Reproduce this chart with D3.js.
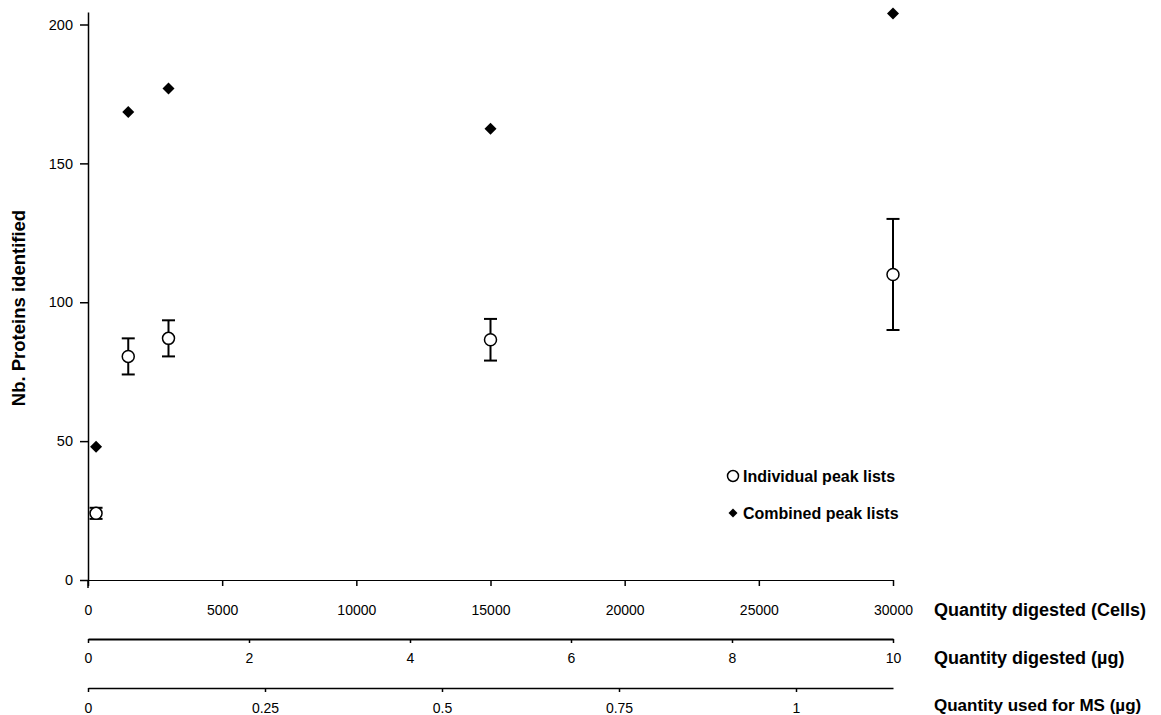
<!DOCTYPE html>
<html>
<head>
<meta charset="utf-8">
<script src="https://cdn.jsdelivr.net/npm/d3@7"></script>
<style>
    body { margin: 0; background: #fff; }
    svg { font-family: "Liberation Sans", Arial, sans-serif; }
    .axis path, .axis line { stroke: #000; }
    .axis text { fill: #000; font-size: 14px; }
    .title { font-size: 18px; font-weight: bold; fill: #000; }
    .legend text { font-size: 16px; font-weight: bold; fill: #000; }
</style>
</head>
<body>
<svg width="1161" height="715"></svg>
<script>
/*jslint browser: true */
/*global d3 */

// quantity digested, in cells
var cells = [300, 1500, 3000, 15000, 30000];
// individual peak lists: mean and error
var individualMean = [24, 80.5, 87, 86.5, 110];
var individualError = [2, 6.5, 6.5, 7.5, 20];
// combined peak lists
var combined = [48, 168.5, 177, 162.5, 204];

var yTicks = [0, 50, 100, 150, 200];
var cellTicks = [0, 5000, 10000, 15000, 20000, 25000, 30000];
var ugTicks = [0, 2, 4, 6, 8, 10];
var msTicks = [0, 0.25, 0.5, 0.75, 1];
var axisTitles = [
    "Quantity digested (Cells)",
    "Quantity digested (\u00b5g)",
    "Quantity used for MS (\u00b5g)"
];
var legendLabels = ["Individual peak lists", "Combined peak lists"];

(function () {
    "use strict";

    var svg = d3.select("svg");
    var left = 88; // px
    var right = 893; // px
    var bottom = 580; // px

    var x = d3.scaleLinear().domain([0, 30000]).range([left, right]);
    var y = d3.scaleLinear().domain([0, 204.5]).range([bottom, 12]);
    var xUg = d3.scaleLinear().domain([0, 10]).range([left, right]);
    var xMs = d3.scaleLinear().domain([0, 1.137]).range([left, right]);

    var fmt = function (d) {
        return String(d);
    };

    // y axis
    var yAxisGroup = svg.append("g")
        .attr("class", "axis")
        .attr("transform", "translate(" + left + ",0)")
        .call(d3.axisLeft(y).tickValues(yTicks).tickSize(8)
            .tickSizeOuter(0).tickPadding(7).tickFormat(fmt));
    yAxisGroup.select(".domain").attr("stroke-width", 1.5);
    yAxisGroup.selectAll(".tick line").attr("stroke-width", 1.5);
    yAxisGroup.selectAll(".tick text").style("font-size", "14.5px");

    svg.append("text")
        .attr("class", "title")
        .attr("transform", "translate(25,308) rotate(-90)")
        .attr("text-anchor", "middle")
        .style("font-size", "18.5px")
        .text("Nb. Proteins identified");

    // three stacked x axes
    var addXAxis = function (spec) {
        var group = svg.append("g")
            .attr("class", "axis")
            .attr("transform", "translate(0," + spec.top + ")")
            .call(d3.axisBottom(spec.scale).tickValues(spec.ticks)
                .tickSize(spec.tickSize).tickSizeOuter(0)
                .tickPadding(spec.padding).tickFormat(fmt));
        group.select(".domain").attr("stroke-width", spec.width);
        group.selectAll(".tick line").attr("stroke-width", 1.5);
        svg.append("text")
            .attr("class", "title")
            .attr("x", 934)
            .attr("y", spec.top + spec.titleOffset)
            .attr("dy", "0.35em")
            .style("font-size", spec.titleSize)
            .text(spec.title);
        return group;
    };

    addXAxis({
        scale: x, ticks: cellTicks, top: bottom, tickSize: 6,
        padding: 19, width: 1.2, title: axisTitles[0], titleOffset: 30,
        titleSize: "18px"
    });
    addXAxis({
        scale: xUg, ticks: ugTicks, top: 639, tickSize: 4,
        padding: 10, width: 2.2, title: axisTitles[1], titleOffset: 19,
        titleSize: "18px"
    });
    addXAxis({
        scale: xMs, ticks: msTicks, top: 688, tickSize: 4,
        padding: 11, width: 1.5, title: axisTitles[2], titleOffset: 17,
        titleSize: "17px"
    });

    // y axis line reaches down past the x axis
    svg.append("line")
        .attr("x1", left).attr("x2", left)
        .attr("y1", bottom).attr("y2", bottom + 8)
        .attr("stroke", "#000").attr("stroke-width", 1.5);

    var points = cells.map(function (c, i) {
        return {
            x: c,
            mean: individualMean[i],
            err: individualError[i],
            comb: combined[i]
        };
    });

    var diamond = d3.symbol().type(d3.symbolSquare).size(72);
    var capHalf = 6.5; // px

    var marks = svg.append("g");

    marks.selectAll("path.combined")
        .data(points)
        .enter()
        .append("path")
        .attr("class", "combined")
        .attr("d", diamond)
        .attr("fill", "#000")
        .attr("transform", function (d) {
            return "translate(" + x(d.x) + "," + y(d.comb) + ") rotate(45)";
        });

    var bars = marks.selectAll("g.err")
        .data(points)
        .enter()
        .append("g")
        .attr("class", "err")
        .attr("stroke", "#000")
        .attr("stroke-width", 2);
    bars.append("line")
        .attr("x1", function (d) { return x(d.x); })
        .attr("x2", function (d) { return x(d.x); })
        .attr("y1", function (d) { return y(d.mean - d.err); })
        .attr("y2", function (d) { return y(d.mean + d.err); });
    [-1, 1].forEach(function (sign) {
        bars.append("line")
            .attr("x1", function (d) { return x(d.x) - capHalf; })
            .attr("x2", function (d) { return x(d.x) + capHalf; })
            .attr("y1", function (d) { return y(d.mean + sign * d.err); })
            .attr("y2", function (d) { return y(d.mean + sign * d.err); });
    });

    marks.selectAll("circle")
        .data(points)
        .enter()
        .append("circle")
        .attr("cx", function (d) { return x(d.x); })
        .attr("cy", function (d) { return y(d.mean); })
        .attr("r", 6)
        .attr("fill", "#fff")
        .attr("stroke", "#000")
        .attr("stroke-width", 1.5);

    // legend
    var legend = svg.append("g").attr("class", "legend");
    var rowY = [476, 513];
    var legendX = 733; // px
    legend.append("circle")
        .attr("cx", legendX).attr("cy", rowY[0]).attr("r", 5.5)
        .attr("fill", "#fff").attr("stroke", "#000")
        .attr("stroke-width", 1.5);
    legend.append("path")
        .attr("d", d3.symbol().type(d3.symbolSquare).size(40))
        .attr("fill", "#000")
        .attr("transform", "translate(" + legendX + "," + rowY[1] +
                ") rotate(45)");
    legend.selectAll("text")
        .data(legendLabels)
        .enter()
        .append("text")
        .attr("x", legendX + 10)
        .attr("y", function (d, i) { return rowY[i]; })
        .attr("dy", "0.35em")
        .text(function (d) { return d; });
}());
</script>
</body>
</html>
